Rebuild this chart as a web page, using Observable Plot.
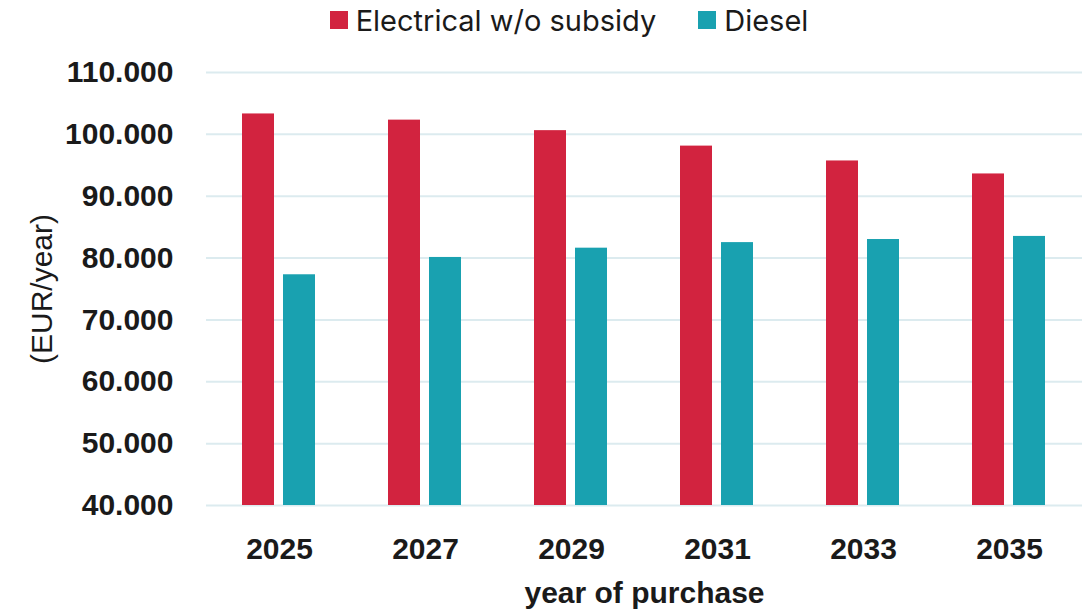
<!DOCTYPE html>
<html>
<head>
<meta charset="utf-8">
<script src="https://cdn.jsdelivr.net/npm/d3@7"></script>
<script src="https://cdn.jsdelivr.net/npm/@observablehq/plot@0.6"></script>
<style>
  html, body { margin: 0; padding: 0; background: #fff; }
  #legend { height: 40px; display: flex; justify-content: center; align-items: center; gap: 42px;
    font-family: Inter, "Liberation Sans", sans-serif; font-size: 29px; color: #1a1a1a; padding-left: 50px; }
  .item { display: flex; align-items: center; gap: 8px; }
  .sw { width: 18px; height: 18px; display: inline-block; }
</style>
</head>
<body>
<div id="legend"></div>
<div id="chart"></div>
<script>
const years = [2025, 2027, 2029, 2031, 2033, 2035];
const seriesNames = ["Electrical w/o subsidy", "Diesel"];
const electrical = [103300, 102300, 100600, 98100, 95700, 93600];
const diesel = [77300, 80100, 81600, 82500, 83000, 83500];
const seriesColors = ["#D2233F", "#19A1B0"];
const yTicks = [40000, 50000, 60000, 70000, 80000, 90000, 100000, 110000];
const baseline = 40000;

const data = [];
years.forEach((yr, i) => {
  data.push({year: String(yr), series: seriesNames[0], value: electrical[i]});
  data.push({year: String(yr), series: seriesNames[1], value: diesel[i]});
});

const de = d3.formatLocale({decimal: ",", thousands: ".", grouping: [3], currency: ["", "€"]});
const fmt = de.format(",d");

const legend = document.getElementById("legend");
seriesNames.forEach((n, i) => {
  const it = document.createElement("span");
  it.className = "item";
  const sw = document.createElement("span");
  sw.className = "sw";
  sw.style.background = seriesColors[i];
  const t = document.createElement("span");
  t.textContent = n;
  it.appendChild(sw); it.appendChild(t);
  legend.appendChild(it);
});

const chart = Plot.plot({
  width: 1088,
  height: 569,
  marginLeft: 204,
  marginRight: 4,
  marginTop: 32,
  marginBottom: 104,
  style: {fontFamily: "'Liberation Sans', Arial, sans-serif", color: "#1a1a1a", background: "#fff"},
  fx: {domain: years.map(String), padding: 0},
  x: {domain: seriesNames, paddingInner: 0.214, paddingOuter: 0.853, axis: null},
  y: {domain: [baseline, 110000]},
  color: {domain: seriesNames, range: seriesColors},
  marks: [
    Plot.ruleY(yTicks, {stroke: "#DCEBEF", strokeWidth: 2}),
    Plot.barY(data, {fx: "year", x: "series", y1: baseline, y2: "value", fill: "series"}),
    Plot.axisY({ticks: yTicks, tickFormat: fmt, tickSize: 0, tickPadding: 33, fontSize: 30, fontWeight: "bold", label: null}),
    Plot.axisY({ticks: yTicks, tickFormat: () => "", tickSize: 0, fontSize: 30,
      label: "(EUR/year)", labelAnchor: "center", labelArrow: "none", labelOffset: 176}),
    Plot.axisFx({anchor: "bottom", tickSize: 0, tickPadding: 32, fontSize: 30, fontWeight: "bold",
      label: "year of purchase", labelAnchor: "center", labelArrow: "none", labelOffset: 97})
  ]
});
document.getElementById("chart").appendChild(chart);
</script>
</body>
</html>
